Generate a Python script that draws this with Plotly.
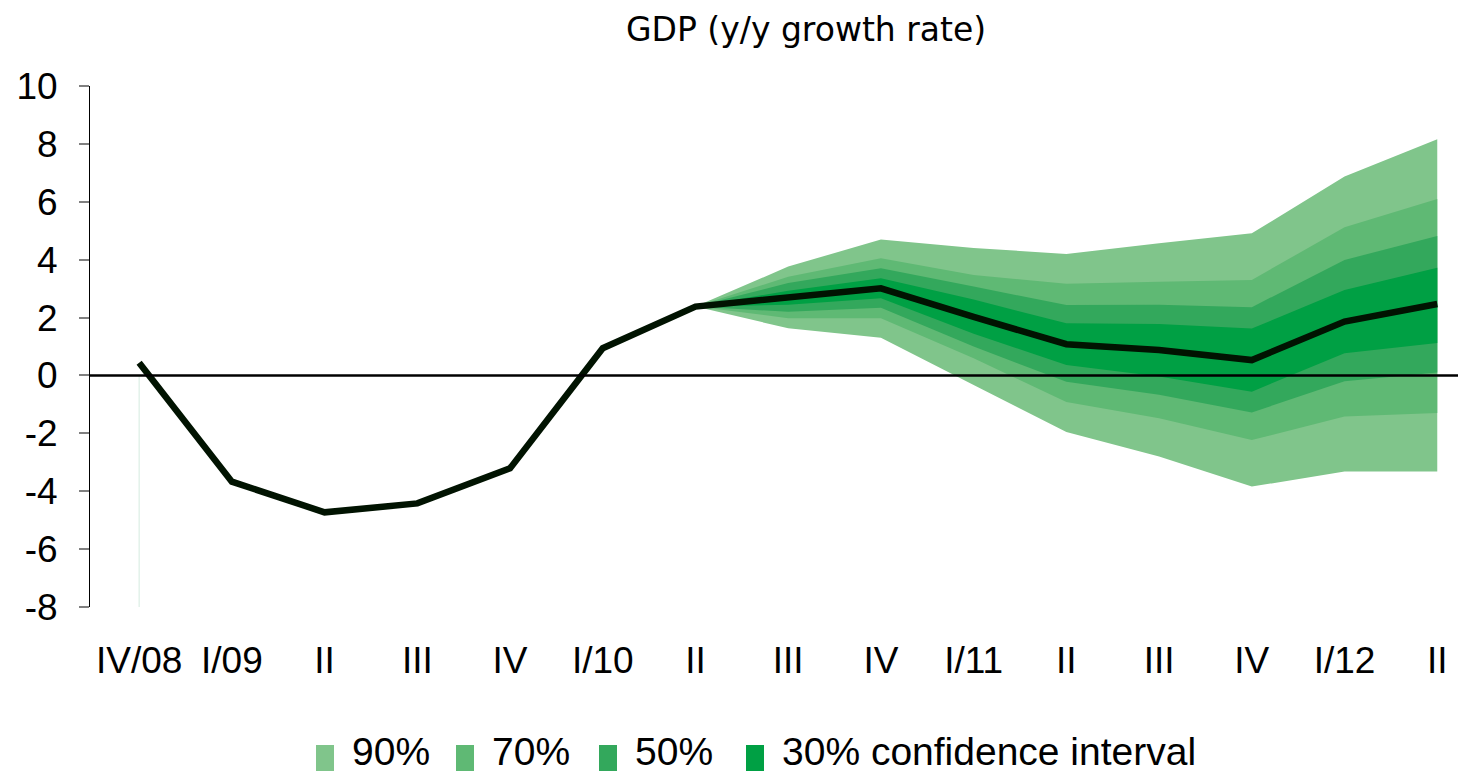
import plotly.graph_objects as go

# quarters on the x axis
quarters = ["IV/08", "I/09", "II", "III", "IV", "I/10", "II", "III", "IV",
            "I/11", "II", "III", "IV", "I/12", "II"]

# GDP y/y growth, actual + central projection
gdp = [0.44, -3.67, -4.73, -4.42, -3.21, 0.94, 2.38, 2.68, 3.01,
       2.02, 1.08, 0.88, 0.53, 1.86, 2.47]

# fan chart bounds, from II/10 to II/12 (index 6..14)
fan_start = 6
band_90_up = [2.38, 3.76, 4.70, 4.40, 4.20, 4.57, 4.91, 6.87, 8.16]
band_90_lo = [2.38, 1.63, 1.30, -0.33, -1.95, -2.80, -3.84, -3.32, -3.32]
band_70_up = [2.38, 3.41, 4.05, 3.47, 3.17, 3.24, 3.30, 5.12, 6.10]
band_70_lo = [2.38, 1.98, 1.98, 0.59, -0.92, -1.48, -2.23, -1.42, -1.30]
band_50_up = [2.38, 3.19, 3.70, 3.07, 2.43, 2.44, 2.36, 3.99, 4.82]
band_50_lo = [2.38, 2.20, 2.34, 1.00, -0.22, -0.67, -1.28, -0.20, 0.10]
band_30_up = [2.38, 2.93, 3.36, 2.62, 1.80, 1.78, 1.62, 2.95, 3.72]
band_30_lo = [2.38, 2.44, 2.67, 1.44, 0.36, -0.04, -0.56, 0.77, 1.12]

band_names = ["90%", "70%", "50%", "30% confidence interval"]
band_colors = ["#80c58b", "#5fb974", "#33a85c", "#00a044"]
band_up = [band_90_up, band_70_up, band_50_up, band_30_up]
band_lo = [band_90_lo, band_70_lo, band_50_lo, band_30_lo]

y_ticks = [10, 8, 6, 4, 2, 0, -2, -4, -6, -8]
y_labels = ["10", "8", "6", "4", "2", "0", "-2", "-4", "-6", "-8"]

# the page has an 8px body margin, so the figure is shifted by that much
OFF = 8
W, H = 1466 - OFF, 775 - OFF
# plot area in window pixels: x 90..1466, y 86..607
L, T = 90 - OFF, 86 - OFF
R, B = 0, H - (607 - OFF)
pw, ph = W - L - R, H - T - B


def px(x):  # window pixel -> paper x
    return (x - OFF - L) / pw


def py(y):  # window pixel -> paper y
    return (H - B - (y - OFF)) / ph


x_all = list(range(len(quarters)))
x_fan = x_all[fan_start:]

fig = go.Figure()

# faint edge left over from the stacked areas
fig.add_trace(go.Scatter(x=[0, 0], y=[0, -8], mode="lines",
                         line=dict(color="#d4ebdf", width=1),
                         hoverinfo="skip", showlegend=False))

# fan bands, widest first so narrower ones sit on top
for up, lo, col in zip(band_up, band_lo, band_colors):
    fig.add_trace(go.Scatter(
        x=x_fan + x_fan[::-1], y=up + lo[::-1],
        fill="toself", fillcolor=col, mode="none",
        hoverinfo="skip", showlegend=False))

fig.add_hline(y=0, line=dict(color="black", width=2.5))

fig.add_trace(go.Scatter(x=x_all, y=gdp, mode="lines",
                         line=dict(color="#011301", width=6.5),
                         showlegend=False, name="GDP"))

# title
fig.add_annotation(text="GDP (y/y growth rate)", xref="paper", yref="paper",
                   x=px(806), y=py(30), xanchor="center", yanchor="middle",
                   showarrow=False, font=dict(family="DejaVu Sans", size=33, color="black"))

# hand-built legend with tall swatches like the original
legend_text_x = [353, 493, 636, 783]
for name, col, tx in zip(band_names, band_colors, legend_text_x):
    fig.add_shape(type="rect", xref="paper", yref="paper",
                  x0=px(tx - 37), x1=px(tx - 19), y0=py(771), y1=py(745),
                  fillcolor=col, line=dict(width=0))
    fig.add_annotation(text=name, xref="paper", yref="paper",
                       x=px(tx - 2), y=py(751), xanchor="left", yanchor="middle",
                       showarrow=False, borderpad=0,
                       font=dict(size=39, color="black"))

fig.update_layout(
    width=W, height=H,
    margin=dict(l=L, r=R, t=T, b=B, autoexpand=False),
    plot_bgcolor="white", paper_bgcolor="white",
    font=dict(family="Liberation Sans", color="black"),
    showlegend=False,
)

fig.update_xaxes(
    range=[-0.53, 14.31], tickmode="array", tickvals=x_all, ticktext=quarters,
    showgrid=False, zeroline=False, showline=False, ticks="",
    tickfont=dict(size=37), ticklabelstandoff=28,
)
fig.update_yaxes(
    range=[-8, 10], tickmode="array", tickvals=y_ticks, ticktext=y_labels,
    showgrid=False, zeroline=False,
    showline=True, linecolor="black", linewidth=1,
    ticks="outside", ticklen=10, tickcolor="#808080", tickwidth=1.5,
    tickfont=dict(size=37), ticklabelstandoff=14,
)

fig.write_html("out.html")
